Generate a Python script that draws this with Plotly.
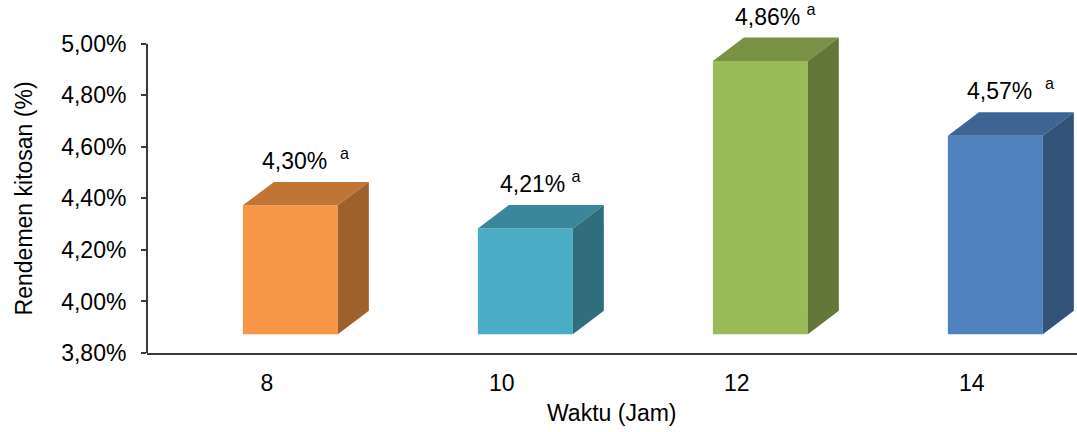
import plotly.graph_objects as go

# Data
waktu = ["8", "10", "12", "14"]
rendemen = [4.30, 4.21, 4.86, 4.57]
notasi = ["a", "a", "a", "a"]
label_gap = ["\u00a0\u00a0", "\u00a0", "\u00a0", "\u00a0\u00a0"]
y_ticks = [3.80, 4.00, 4.20, 4.40, 4.60, 4.80, 5.00]
y_ticktext = ["3,80%", "4,00%", "4,20%", "4,40%", "4,60%", "4,80%", "5,00%"]

front_colors = ["#F79646", "#4BACC6", "#9BBB59", "#4F81BD"]

# 3D box styling (data units)
BASE = 3.80
LIFT = 0.073      # floor of the boxes sits slightly above the axis
DEPTH_Y = 0.091   # vertical depth offset of the top/side faces
DEPTH_X = 0.132   # horizontal depth offset
SHIFT_X = 0.10    # front face offset from category centre
WIDTH = 0.404     # front face width
FONT = "Liberation Sans, Arial, sans-serif"
FS = 23


def shade(hex_color, k):
    h = hex_color.lstrip("#")
    r, g, b = (int(h[i:i + 2], 16) for i in (0, 2, 4))
    return "rgb({},{},{})".format(int(r * k), int(g * k), int(b * k))


fig = go.Figure()

for i, (v, c) in enumerate(zip(rendemen, front_colors)):
    xc = i + SHIFT_X
    xl, xr = xc - WIDTH / 2, xc + WIDTH / 2
    b, t = BASE + LIFT, v + LIFT
    # front face
    fig.add_trace(go.Bar(x=[xc], y=[v - BASE], base=[b], width=[WIDTH],
                         marker=dict(color=c, line=dict(width=0)),
                         hoverinfo="skip", showlegend=False))
    # top face
    fig.add_trace(go.Scatter(x=[xl, xr, xr + DEPTH_X, xl + DEPTH_X, xl],
                             y=[t, t, t + DEPTH_Y, t + DEPTH_Y, t],
                             fill="toself", fillcolor=shade(c, 0.78),
                             line=dict(width=0), mode="lines",
                             hoverinfo="skip", showlegend=False))
    # side face
    fig.add_trace(go.Scatter(x=[xr, xr + DEPTH_X, xr + DEPTH_X, xr, xr],
                             y=[b, b + DEPTH_Y, t + DEPTH_Y, t, b],
                             fill="toself", fillcolor=shade(c, 0.64),
                             line=dict(width=0), mode="lines",
                             hoverinfo="skip", showlegend=False))
    # value label
    txt = "{:.2f}%".format(v).replace(".", ",") + label_gap[i] + \
        "<sup>{}</sup>".format(notasi[i])
    fig.add_annotation(x=xc + DEPTH_X / 2, y=t + DEPTH_Y, text=txt,
                       showarrow=False, yanchor="bottom", yshift=6,
                       font=dict(family=FONT, size=FS, color="#000"))

# y axis line (only up to 5,00%)
fig.add_shape(type="line", xref="paper", yref="y", x0=0, x1=0,
              y0=y_ticks[0], y1=y_ticks[-1],
              line=dict(color="#3a3a3a", width=2))

# axis titles
fig.add_annotation(xref="paper", yref="y", x=0, y=(y_ticks[0] + y_ticks[-1]) / 2,
                   xanchor="center", yanchor="middle",
                   xshift=-123, text="Rendemen kitosan (%)", textangle=-90,
                   showarrow=False, font=dict(family=FONT, size=FS, color="#000"))
fig.add_annotation(xref="paper", yref="paper", x=0.5, y=0,
                   xanchor="center", yanchor="middle",
                   yshift=-60, text="Waktu (Jam)", showarrow=False,
                   font=dict(family=FONT, size=FS, color="#000"))

fig.update_layout(
    width=1077, height=432,
    margin=dict(l=147, r=0, t=18, b=79),
    plot_bgcolor="white", paper_bgcolor="white",
    barmode="overlay",
    xaxis=dict(range=[-0.51, -0.51 + 930 / 235],
               tickvals=list(range(len(waktu))), ticktext=waktu,
               showline=True, linecolor="#3a3a3a", linewidth=2,
               showgrid=False, zeroline=False, ticks="",
               ticklabelstandoff=8,
               tickfont=dict(family=FONT, size=FS, color="#000")),
    yaxis=dict(range=[3.80, 5.10], tickvals=y_ticks, ticktext=y_ticktext,
               showline=False, showgrid=False, zeroline=False,
               ticks="outside", ticklen=5, tickwidth=2, tickcolor="#3a3a3a",
               ticklabelstandoff=10,
               tickfont=dict(family=FONT, size=FS, color="#000")),
)

fig.write_html("out.html")
